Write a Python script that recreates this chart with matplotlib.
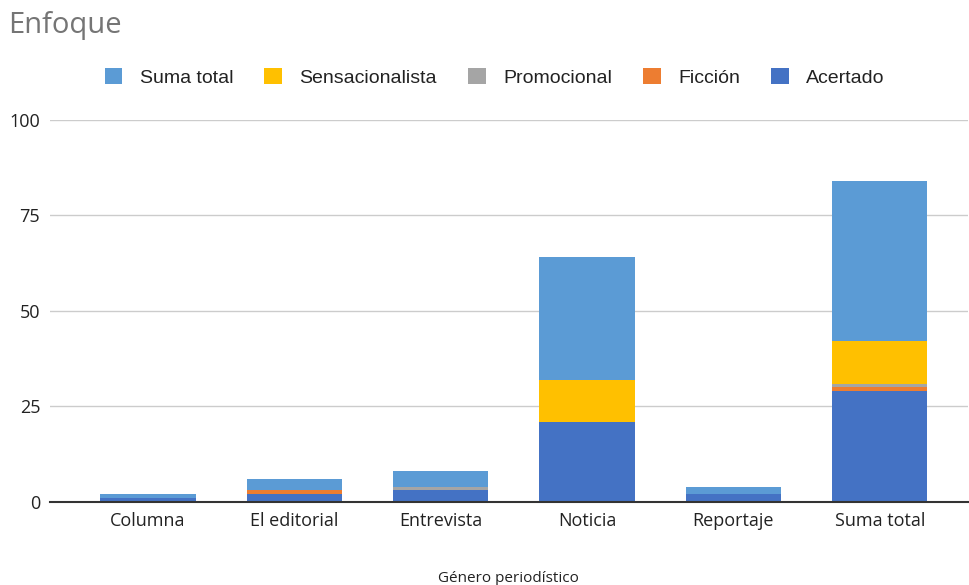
import numpy as np
import matplotlib.pyplot as plt

categories = ['Columna', 'El editorial', 'Entrevista', 'Noticia', 'Reportaje', 'Suma total']
acertado = [1, 2, 3, 21, 2, 29]
ficcion = [0, 1, 0, 0, 0, 1]
promocional = [0, 0, 1, 0, 0, 1]
sensacionalista = [0, 0, 0, 11, 0, 11]
suma_total = [1, 3, 4, 32, 2, 42]
yticks = [0, 25, 50, 75, 100]

series = [
  ('Acertado', acertado, '#4472C4'),
  ('Ficción', ficcion, '#ED7D31'),
  ('Promocional', promocional, '#A5A5A5'),
  ('Sensacionalista', sensacionalista, '#FFC000'),
  ('Suma total', suma_total, '#5B9BD5'),
]

def main():
  plt.rcParams['font.family'] = ['Open Sans', 'DejaVu Sans']
  fig = plt.figure(figsize=(9.7, 5.85), dpi=100)
  ax = fig.add_axes([0.0515, 0.142, 0.946, 0.653])

  x = np.arange(len(categories))
  bottom = np.zeros(len(categories))
  handles = {}
  for name, vals, color in series:
    vals = np.array(vals, dtype=float)
    bars = ax.bar(x, vals, 0.65, bottom=bottom, color=color, label=name, zorder=3)
    handles[name] = bars
    bottom += vals

  ax.set_xlim(-0.67, 5.6)
  ax.set_ylim(0, 100)
  ax.set_xticks(x)
  ax.set_xticklabels(categories, fontsize=13, color='#222222')
  ax.set_yticks(yticks)
  ax.set_yticklabels([str(v) for v in yticks], fontsize=13, color='#222222')
  ax.tick_params(length=0, pad=7)
  ax.grid(axis='y', color='#cccccc', lw=1, zorder=0)
  for s in ['top', 'right', 'left']:
    ax.spines[s].set_visible(False)
  ax.spines['bottom'].set_color('#333333')
  ax.spines['bottom'].set_linewidth(1.5)
  ax.spines['bottom'].set_zorder(4)

  ax.set_xlabel('Género periodístico', fontsize=11, color='#222222', labelpad=30)

  fig.text(0.008, 0.957, 'Enfoque', fontsize=21, color='#757575', va='center', ha='left')

  order = ['Suma total', 'Sensacionalista', 'Promocional', 'Ficción', 'Acertado']
  fig.legend([handles[n] for n in order], order, loc='center', bbox_to_anchor=(0.51, 0.868),
             ncol=5, frameon=False, prop={'family': 'Liberation Sans', 'size': 14},
             handlelength=0.9, handleheight=0.9, columnspacing=1.6, handletextpad=0.9,
             labelcolor='#222222')

  fig.savefig('out.png', dpi=100)

if __name__ == '__main__':
  main()
